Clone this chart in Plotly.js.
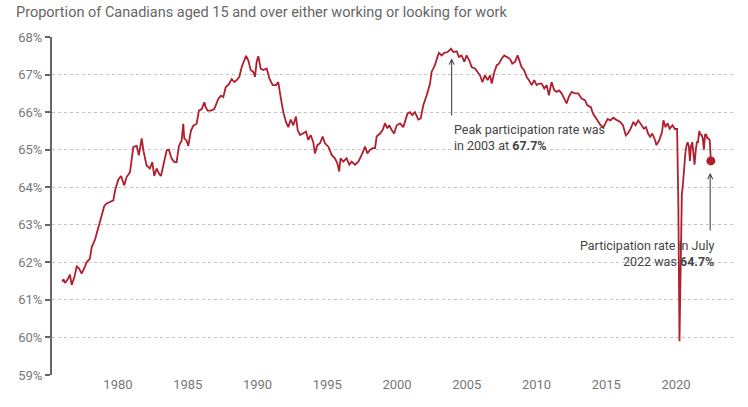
<!DOCTYPE html>
<html>
<head>
<meta charset="utf-8">
<script src="https://cdn.plot.ly/plotly-3.0.1.min.js"></script>
<style>html,body{margin:0;padding:0;background:#fff;}#chart{width:748px;height:407px;}</style>
</head>
<body>
<div id="chart"></div>
<script>
// Participation rate, Canada, aged 15+ (%)
const years = [
1976.0,1976.1,1976.2,1976.3,1976.4,1976.56,1976.68,1976.87,1977.04,1977.2,1977.4,1977.59,1977.75,1977.99,
1978.11,1978.35,1978.59,1978.83,1979.02,1979.19,1979.43,1979.67,1979.78,1980.02,1980.22,1980.45,1980.62,1980.86,
1981.1,1981.34,1981.5,1981.7,1981.82,1982.05,1982.29,1982.46,1982.6,1982.77,1982.94,1983.08,1983.32,1983.49,1983.65,1983.85,
1984.04,1984.2,1984.37,1984.56,1984.68,1984.75,1984.92,1985.04,1985.23,1985.4,1985.64,1985.8,1986.0,1986.19,1986.28,1986.43,
1986.67,1986.9,1987.19,1987.38,1987.55,1987.72,1987.96,1988.15,1988.34,1988.51,1988.7,1988.87,1989.18,1989.34,1989.51,1989.7,
1989.82,1989.94,1990.06,1990.23,1990.42,1990.66,1990.85,1991.09,1991.33,1991.49,1991.66,1991.85,1992.04,1992.21,1992.38,1992.57,
1992.76,1992.88,1993.05,1993.29,1993.48,1993.64,1993.81,1994.0,1994.12,1994.29,1994.48,1994.67,1994.84,1995.08,1995.32,1995.55,
1995.72,1995.86,1995.95,1996.15,1996.39,1996.58,1996.75,1996.99,1997.23,1997.47,1997.71,1997.88,1998.07,1998.26,1998.43,1998.54,
1998.78,1998.97,1999.14,1999.31,1999.45,1999.62,1999.79,1999.98,2000.22,2000.45,2000.6,2000.75,2000.93,2001.1,2001.29,2001.53,
2001.7,2001.89,2002.13,2002.37,2002.48,2002.72,2002.92,2003.01,2003.2,2003.39,2003.63,2003.87,2004.04,2004.28,2004.44,2004.63,
2004.83,2004.99,2005.18,2005.35,2005.59,2005.78,2005.95,2006.12,2006.31,2006.5,2006.67,2006.79,2006.98,2007.15,2007.31,2007.5,
2007.69,2007.86,2008.1,2008.26,2008.46,2008.65,2008.81,2008.93,2009.12,2009.29,2009.46,2009.65,2009.84,2010.01,2010.2,2010.37,
2010.56,2010.73,2010.89,2011.08,2011.28,2011.44,2011.63,2011.8,2011.99,2012.16,2012.32,2012.52,2012.75,2012.99,2013.23,2013.47,
2013.65,2013.9,2014.05,2014.2,2014.4,2014.6,2014.8,2014.95,2015.1,2015.3,2015.5,2015.7,2016.0,2016.2,2016.4,2016.55,
2016.75,2016.95,2017.1,2017.3,2017.5,2017.7,2017.85,2018.0,2018.15,2018.3,2018.5,2018.6,2018.8,2019.0,2019.1,2019.25,
2019.4,2019.55,2019.75,2019.92,2020.08,2020.17,2020.25,2020.33,2020.42,2020.5,2020.58,2020.67,2020.75,2020.83,2020.92,
2021.0,2021.08,2021.17,2021.25,2021.33,2021.42,2021.5,2021.58,2021.67,2021.75,2021.83,2021.92,
2022.0,2022.08,2022.17,2022.25,2022.33,2022.42,2022.5
];
const rate = [
61.49,61.55,61.45,61.5,61.55,61.67,61.4,61.6,61.89,61.84,61.7,61.85,62.0,62.1,
62.4,62.6,62.9,63.2,63.5,63.57,63.6,63.65,63.9,64.2,64.3,64.05,64.27,64.4,
65.07,65.1,64.85,65.3,64.98,64.58,64.5,64.67,64.3,64.5,64.36,64.3,64.7,64.98,65.0,64.76,
64.67,64.67,65.1,65.24,65.69,65.3,65.24,65.1,65.5,65.64,65.69,66.04,66.08,66.26,66.14,66.04,
66.04,66.08,66.35,66.44,66.4,66.66,66.75,66.88,66.8,66.85,66.94,67.2,67.5,67.38,67.12,67.07,
66.94,67.34,67.49,67.16,67.12,67.16,66.9,66.72,66.72,66.8,66.4,66.0,65.74,65.6,65.8,65.65,
65.88,65.52,65.39,65.43,65.48,65.26,65.39,65.2,64.9,65.12,65.17,65.35,65.17,65.08,64.86,64.77,
64.64,64.42,64.77,64.68,64.77,64.6,64.68,64.6,64.68,64.86,65.08,64.9,65.0,65.04,65.04,65.35,
65.43,65.52,65.7,65.57,65.65,65.52,65.43,65.65,65.7,65.6,65.79,65.96,66.0,65.92,66.0,65.8,
65.83,66.19,66.45,66.76,67.07,67.25,67.49,67.58,67.51,67.58,67.6,67.69,67.6,67.62,67.47,67.51,
67.34,67.51,67.38,67.2,67.16,67.07,66.98,66.8,66.98,66.85,66.98,66.76,67.07,67.25,67.29,67.42,
67.51,67.47,67.42,67.29,67.34,67.51,67.34,67.2,67.11,66.94,66.85,66.72,66.85,66.72,66.76,66.76,
66.63,66.72,66.45,66.8,66.58,66.54,66.58,66.5,66.36,66.23,66.41,66.54,66.5,66.5,66.36,66.32,
66.18,66.13,65.96,65.87,65.74,65.65,65.6,65.7,65.82,65.78,65.85,65.8,65.74,65.65,65.38,65.43,
65.56,65.74,65.65,65.78,65.65,65.56,65.6,65.43,65.34,65.43,65.25,65.12,65.25,65.47,65.78,65.6,
65.7,65.56,65.65,65.55,65.55,63.5,59.9,61.3,63.8,64.1,64.6,64.9,65.1,65.2,65.1,
64.7,65.1,65.2,64.9,64.6,65.0,65.2,65.2,65.5,65.4,65.4,65.3,
65.0,65.4,65.4,65.3,65.3,65.25,64.7
];
const lastYear = 2022.5;
const lastRate = 64.7;
const peakYear = 2003.92;
const tickYears = [1980, 1985, 1990, 1995, 2000, 2005, 2010, 2015, 2020];
const tickPct = [59, 60, 61, 62, 63, 64, 65, 66, 67, 68];
const tickPctText = tickPct.map(v => v + '%');

const lineColor = '#b11f2e';
const textFont = 'Roboto, "Open Sans", sans-serif';

const traces = [
  {x: years, y: rate, type: 'scatter', mode: 'lines',
   line: {color: lineColor, width: 1.8}, hoverinfo: 'skip'},
  {x: [lastYear], y: [lastRate], type: 'scatter', mode: 'markers',
   marker: {color: lineColor, size: 9}, hoverinfo: 'skip'}
];

const layout = {
  width: 748, height: 407,
  margin: {l: 52, r: 13, t: 37, b: 32},
  paper_bgcolor: '#fff', plot_bgcolor: '#fff',
  showlegend: false,
  font: {family: textFont, color: '#666', size: 13},
  title: {text: 'Proportion of Canadians aged 15 and over either working or looking for work',
          x: 16 / 748, xanchor: 'left', xref: 'container', y: 0.97, yanchor: 'middle', yref: 'container',
          font: {family: textFont, size: 14.5, color: '#666'}},
  xaxis: {range: [1975.27, 2024.23], tickvals: tickYears, ticktext: tickYears.map(String),
          showgrid: false, zeroline: false, showline: false, ticks: '',
          tickfont: {size: 13, color: '#777'}},
  yaxis: {range: [59, 68], tickvals: tickPct, ticktext: tickPctText,
          showgrid: true, gridcolor: '#c4c4c4', griddash: 'dot', gridwidth: 1,
          zeroline: false, showline: true, linecolor: '#666', linewidth: 2,
          ticks: 'outside', ticklen: 5, tickcolor: '#666', tickwidth: 2,
          tickfont: {size: 13, color: '#777'}},
  annotations: [
    {x: peakYear, y: 67.43, ax: peakYear, ay: 65.87, xref: 'x', yref: 'y', axref: 'x', ayref: 'y',
     text: '', showarrow: true, arrowhead: 5, arrowsize: 1, arrowwidth: 1, arrowcolor: '#333'},
    {x: 2003.93, y: 65.78, xref: 'x', yref: 'y', xanchor: 'left', yanchor: 'top', align: 'left',
     text: 'Peak participation rate was<br>in 2003 at <b>67.7%</b>', showarrow: false,
     font: {family: textFont, size: 12.5, color: '#444'}},
    {x: 2022.45, y: 64.38, ax: 2022.45, ay: 62.81, xref: 'x', yref: 'y', axref: 'x', ayref: 'y',
     text: '', showarrow: true, arrowhead: 5, arrowsize: 1, arrowwidth: 1, arrowcolor: '#333'},
    {x: 2022.87, y: 62.7, xref: 'x', yref: 'y', xanchor: 'right', yanchor: 'top', align: 'right',
     text: 'Participation rate in July<br>2022 was <b>64.7%</b>', showarrow: false,
     font: {family: textFont, size: 12.5, color: '#444'}}
  ]
};

Plotly.newPlot('chart', traces, layout, {displayModeBar: false, staticPlot: true});
</script>
</body>
</html>
